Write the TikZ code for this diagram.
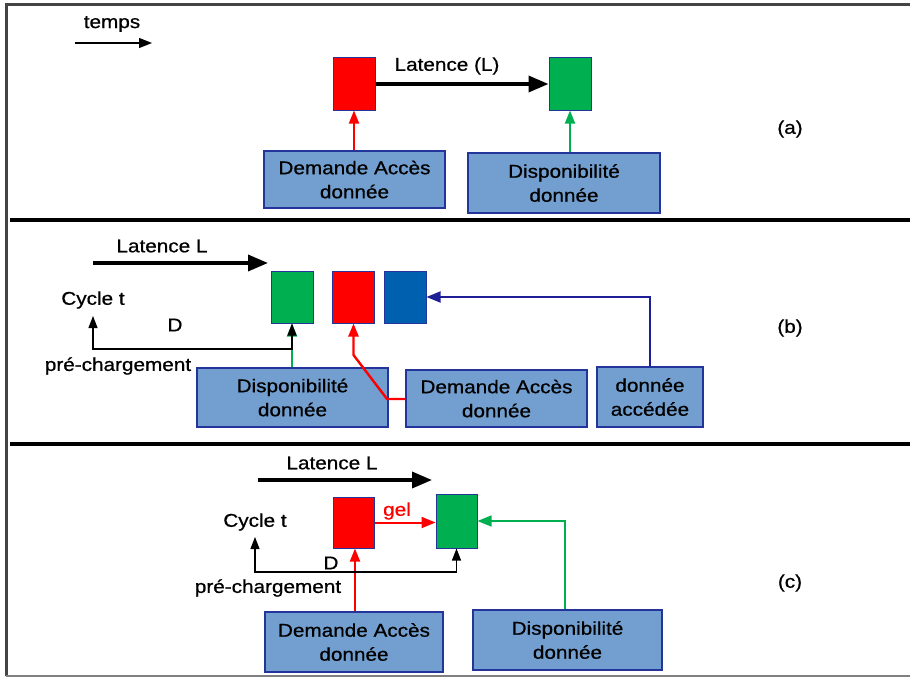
\documentclass[tikz,border=0pt]{standalone}
\usepackage{fontspec}
\setmainfont{Liberation Sans}[FakeStretch=1.12,FakeBold=0.7]
\usetikzlibrary{arrows.meta}

\definecolor{boxfill}{HTML}{729FCF}
\definecolor{boxline}{HTML}{23349A}
\definecolor{navyarrow}{HTML}{1E1E96}
\definecolor{cellred}{HTML}{FF0000}
\definecolor{cellgreen}{HTML}{00B050}
\definecolor{cellblue}{HTML}{0060B0}
\definecolor{framegray}{HTML}{444444}

\begin{document}
\begin{tikzpicture}[x=1pt,y=-1pt,
  lbl/.style={draw=boxline, fill=boxfill, line width=1.4pt, align=center,
    inner sep=0pt, font=\fontsize{18.5}{24}\selectfont},
  cell/.style={draw=boxline, line width=1pt, minimum width=42pt,
    minimum height=52pt, inner sep=0pt},
  txt/.style={inner sep=0pt, font=\fontsize{18.5}{22}\selectfont},
  bigarrow/.style={line width=3.5pt, -{Triangle[length=20pt,width=16pt]}},
  thinarrow/.style={line width=1.8pt, -{Triangle[length=13pt,width=10pt]}},
  precharge/.style={line width=1.2pt, {Triangle[length=12pt,width=9pt]}-{Triangle[length=12pt,width=9pt]}}
]
\useasboundingbox (0,0) rectangle (910,677);

% outer frame and panel separators
\draw[framegray, line width=3pt] (6,676) -- (6,5) -- (910,5);
\draw[gray, line width=2pt] (6,675.5) -- (910,675.5);
\draw[black, line width=4pt] (10,220) -- (910,220);
\draw[black, line width=4pt] (10,444) -- (910,444);

% ---------- panel (a) ----------
\node[txt] (temps) at (112,24) {temps};
\coordinate (t0) at (75,43);
\coordinate (t1) at (152,43);
\draw[line width=1.4pt, -{Triangle[length=13pt,width=10pt]}] (t0) -- (t1);

\node[cell, fill=cellred]   (redA)   at (354,84) {};
\node[cell, fill=cellgreen] (greenA) at (570,84) {};
\draw[bigarrow] (redA) -- (greenA);
\node[txt] (latA) at (447,66) {Latence (L)};

\node[lbl, minimum width=181pt, minimum height=57pt] (demA) at (354.5,179.5)
  {Demande Accès\\donnée};
\node[lbl, minimum width=192pt, minimum height=60pt] (dispA) at (564,183)
  {Disponibilité\\donnée};
\draw[thinarrow, cellred]   (demA.north -| redA)    -- (redA.south);
\draw[thinarrow, cellgreen] (dispA.north -| greenA) -- (greenA.south);

\node[txt] (capA) at (790,129) {(a)};

% ---------- panel (b) ----------
\node[txt] (latB) at (162,246) {Latence L};
\coordinate (lb0) at (93,263);
\coordinate (lb1) at (268,263);
\draw[bigarrow] (lb0) -- (lb1);

\node[cell, fill=cellgreen] (greenB) at (292,297) {};
\node[cell, fill=cellred]   (redB)   at (353.5,297) {};
\node[cell, fill=cellblue]  (blueB)  at (405,297) {};

\node[txt] (cycB) at (93,300) {Cycle t};
\node[txt] (dB)   at (175,325) {D};
\node[txt] (preB) at (118,366) {pré-chargement};

\node[lbl, minimum width=191pt, minimum height=59pt] (dispB) at (292.5,397.5)
  {Disponibilité\\donnée};
\node[lbl, minimum width=181pt, minimum height=57pt] (demB) at (496.5,398.5)
  {Demande Accès\\donnée};
\node[lbl, minimum width=106pt, minimum height=60pt] (accB) at (650,397)
  {donnée\\accédée};

% data access feeds the blue cell
\draw[line width=1.8pt, navyarrow, -{Triangle[length=14pt,width=11pt]}]
  (accB.north) |- (blueB.east);
% availability feeds the green cell
\draw[thinarrow, cellgreen] (dispB.north -| greenB) -- (greenB.south);
% access request feeds the red cell
\coordinate (rb1) at (387,399);
\coordinate (rb2) at (353.5,355);
\draw[line width=2.4pt, cellred, -{Triangle[length=13pt,width=10pt]}]
  (demB.west |- rb1) -- (rb1) -- (rb2) -- (redB.south);
% pre-loading loop
\coordinate (cyB) at (93,316);
\coordinate (pcB) at (93,349);
\draw[precharge] (cyB) -- (pcB) -| (greenB.south);

\node[txt] (capB) at (790,328) {(b)};

% ---------- panel (c) ----------
\node[txt] (latC) at (332,463) {Latence L};
\coordinate (lc0) at (258,480);
\coordinate (lc1) at (432,480);
\draw[bigarrow] (lc0) -- (lc1);

\node[cell, fill=cellred, minimum width=41pt, minimum height=51pt]   (redC)   at (353.5,522.5) {};
\node[cell, fill=cellgreen, minimum width=41pt, minimum height=54pt] (greenC) at (456.5,521) {};

\draw[line width=2pt, cellred, -{Triangle[length=14pt,width=11pt]}]
  (redC.east) -- (redC.east -| greenC.west);
\node[txt, text=cellred] (gel) at (397,511) {gel};

\node[txt] (cycC) at (255,522) {Cycle t};
\node[txt] (dC)   at (331,563) {D};
\node[txt] (preC) at (268,588) {pré-chargement};

\node[lbl, minimum width=178pt, minimum height=60pt] (demC) at (354,642)
  {Demande Accès\\donnée};
\node[lbl, minimum width=189pt, minimum height=60pt] (dispC) at (567.5,640)
  {Disponibilité\\donnée};

\coordinate (rc) at (355,580);
\draw[line width=2pt, cellred, -{Triangle[length=13pt,width=10pt]}]
  (demC.north -| rc) -- (rc |- redC.south);
\coordinate (gc) at (565,521);
\draw[line width=1.6pt, cellgreen, -{Triangle[length=14pt,width=11pt]}]
  (dispC.north -| gc) -- (gc) -- (greenC.east);
\coordinate (cyC) at (255,537);
\coordinate (pcC) at (255,572);
\draw[precharge] (cyC) -- (pcC) -| (greenC.south);

\node[txt] (capC) at (790,583) {(c)};
\end{tikzpicture}
\end{document}
